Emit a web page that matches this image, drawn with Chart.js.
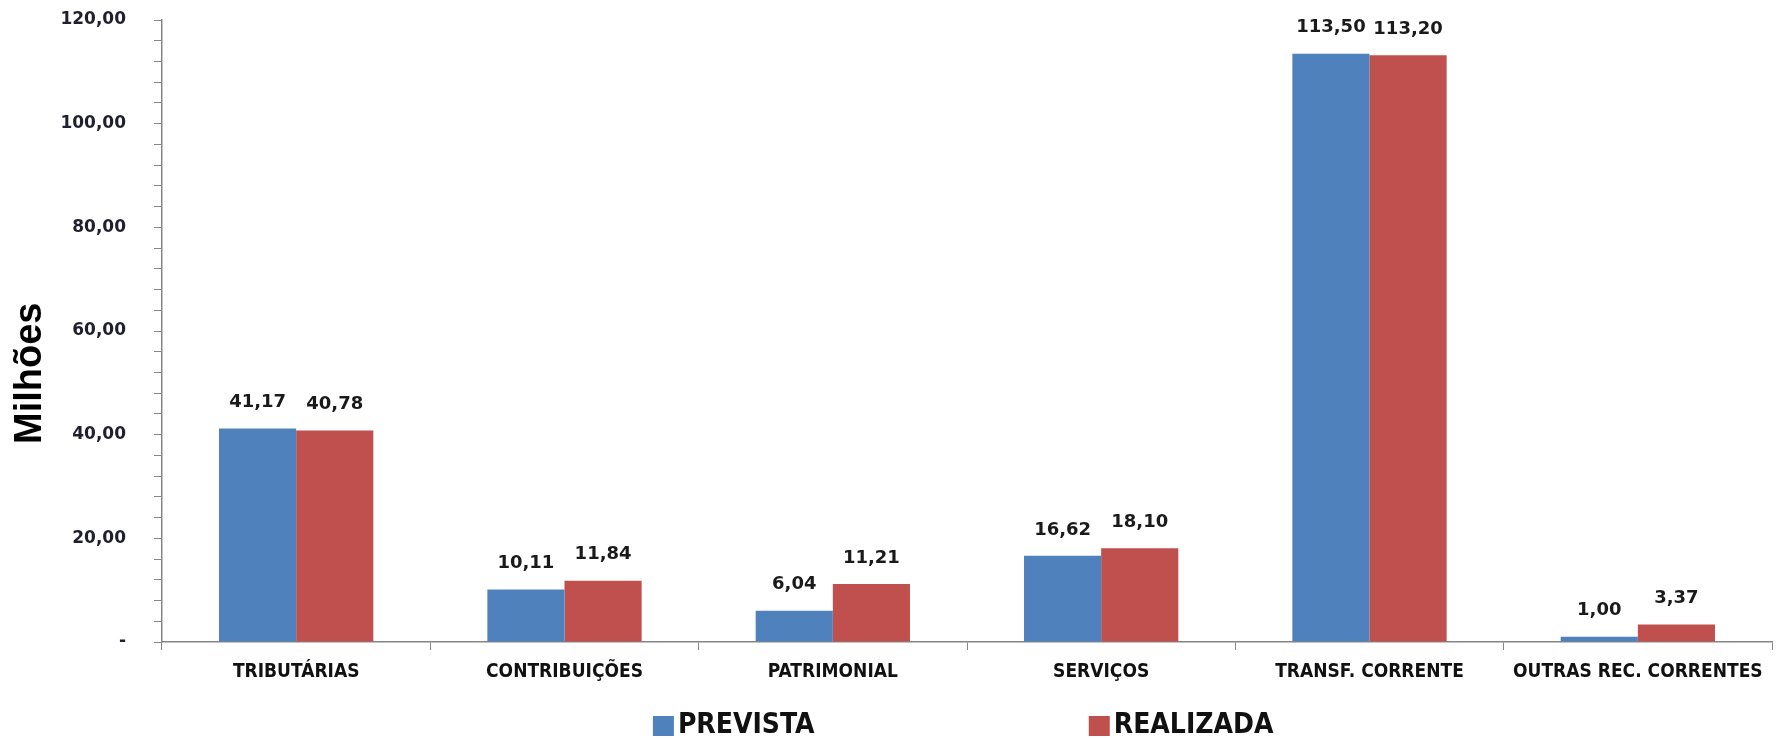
<!DOCTYPE html>
<html>
<head>
<meta charset="utf-8">
<script src="https://cdn.jsdelivr.net/npm/chart.js@4.4.1/dist/chart.umd.min.js"></script>
<style>
  html, body { margin: 0; padding: 0; background: #fff; }
  #wrap { width: 1779px; height: 738px; }
</style>
</head>
<body>
<div id="wrap"><canvas id="receitasChart"></canvas></div>
<script>
// dados (em milhões)
const categorias = ["TRIBUTÁRIAS", "CONTRIBUIÇÕES", "PATRIMONIAL", "SERVIÇOS", "TRANSF. CORRENTE", "OUTRAS REC. CORRENTES"];
const prevista = [41.17, 10.11, 6.04, 16.62, 113.50, 1.00];
const realizada = [40.78, 11.84, 11.21, 18.10, 113.20, 3.37];
const nomesSeries = ["PREVISTA", "REALIZADA"];
const yMax = 120;
const yPasso = 4;        // marcas menores
const yPassoRotulo = 20; // rótulos

const corPrevista = "#4F81BD";
const corRealizada = "#C0504D";
const fonteEstreita = "'DejaVu Sans Condensed', 'DejaVu Sans', sans-serif";

function fmt(v) {
    if (v === 0) return "-";
    return v.toFixed(2).replace(".", ",");
}

// rótulos de valor acima das barras
const rotulosValores = {
    id: "rotulosValores",
    afterDatasetsDraw(chart) {
        const ctx = chart.ctx;
        ctx.save();
        ctx.font = "bold 18px 'DejaVu Sans'";
        ctx.fillStyle = "#1a1a1a";
        ctx.textAlign = "center";
        ctx.textBaseline = "middle";
        chart.data.datasets.forEach((ds, i) => {
            chart.getDatasetMeta(i).data.forEach((bar, j) => {
                ctx.fillText(fmt(ds.data[j]), bar.x, bar.y - 26);
            });
        });
        ctx.restore();
    }
};

// legenda espaçada como no original
const legendaInferior = {
    id: "legendaInferior",
    afterDraw(chart) {
        const ctx = chart.ctx;
        const posX = [chart.width * 0.367, chart.width * 0.612];
        const yc = chart.height - 12;
        ctx.save();
        ctx.font = "bold 28px " + fonteEstreita;
        ctx.textBaseline = "middle";
        ctx.textAlign = "left";
        chart.data.datasets.forEach((ds, i) => {
            ctx.fillStyle = ds.backgroundColor;
            ctx.fillRect(posX[i], yc - 10, 21, 20);
            ctx.fillStyle = "#111";
            ctx.fillText(ds.label, posX[i] + 25, yc);
        });
        ctx.restore();
    }
};

const ctx = document.getElementById("receitasChart").getContext("2d");
new Chart(ctx, {
    type: "bar",
    data: {
        labels: categorias,
        datasets: [{
            label: nomesSeries[0],
            data: prevista,
            backgroundColor: corPrevista,
            categoryPercentage: 0.575,
            barPercentage: 1.0
        }, {
            label: nomesSeries[1],
            data: realizada,
            backgroundColor: corRealizada,
            categoryPercentage: 0.575,
            barPercentage: 1.0
        }]
    },
    options: {
        responsive: true,
        maintainAspectRatio: false,
        animation: false,
        layout: { padding: { left: 0, top: 0, right: 7, bottom: 52 } },
        plugins: {
            legend: { display: false },
            tooltip: { enabled: false }
        },
        scales: {
            x: {
                grid: { display: true, offset: true, drawOnChartArea: false, drawTicks: true, tickLength: 8, color: "#868686" },
                border: { display: true, color: "#868686", width: 1.5 },
                ticks: {
                    color: "#111",
                    font: { family: fonteEstreita, weight: "bold", size: 19 },
                    padding: 11,
                    maxRotation: 0,
                    autoSkip: false
                },
                afterFit(scale) { scale.height = 44; }
            },
            y: {
                min: 0,
                max: yMax,
                grid: { display: true, drawOnChartArea: false, drawTicks: true, tickLength: 8, color: "#868686" },
                border: { display: true, color: "#868686", width: 1.5 },
                ticks: {
                    stepSize: yPasso,
                    maxTicksLimit: 100,
                    autoSkip: false,
                    color: "#1f1f30",
                    font: { family: "'DejaVu Sans'", weight: "bold", size: 17 },
                    padding: 28,
                    callback: (v) => (v % yPassoRotulo === 0 ? fmt(v) : "")
                },
                title: {
                    display: true,
                    text: "Milhões" + "\u00a0".repeat(8),
                    color: "#000",
                    font: { family: "'Liberation Sans'", weight: "bold", size: 38 },
                    padding: { top: 8, bottom: 0 }
                },
                afterFit(scale) {
                    scale.width = 162;
                    // o padding dos rótulos não deve empurrar a área do gráfico
                    scale.paddingTop = 20;
                    scale.paddingBottom = 10;
                }
            }
        }
    },
    plugins: [rotulosValores, legendaInferior]
});
</script>
</body>
</html>
